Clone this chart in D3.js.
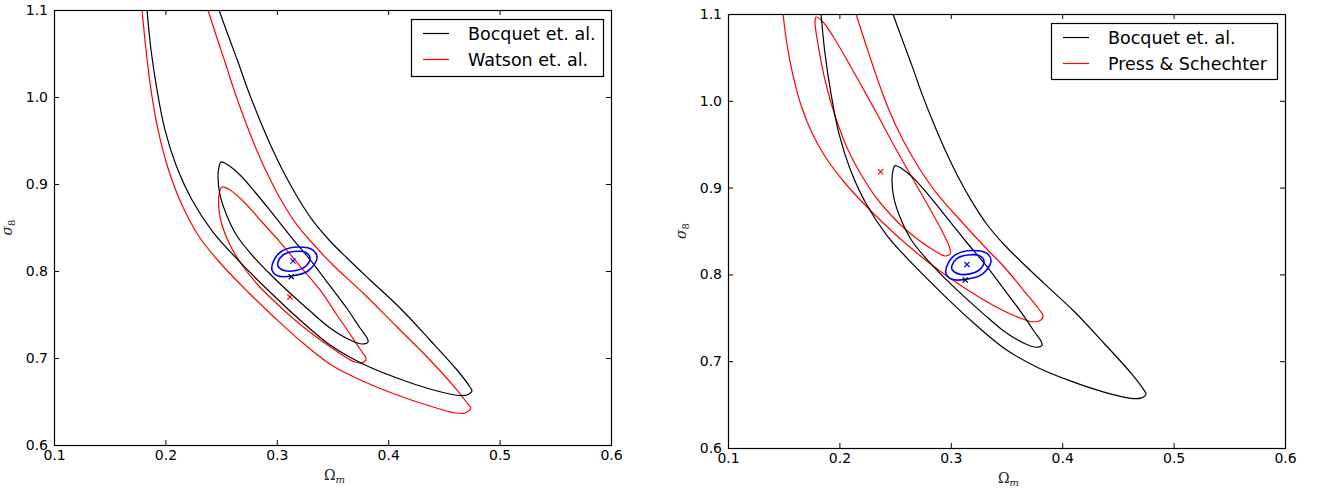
<!DOCTYPE html>
<html>
<head>
<meta charset="utf-8">
<script src="https://cdn.jsdelivr.net/npm/d3@7"></script>
<style>
  body { margin: 0; background: #fff; }
  text { font-family: "DejaVu Sans", sans-serif; }
</style>
</head>
<body>
<svg id="chart" width="1320" height="491"></svg>
<script>
// Axis ticks
const omegaTicks = [0.1, 0.2, 0.3, 0.4, 0.5, 0.6];
const sigmaTicks = [0.6, 0.7, 0.8, 0.9, 1.0, 1.1];

// Bocquet et. al. contours [Omega_m, sigma_8] (shared by both panels)
const bocquetInner = [
  [0.2499, 0.9253], [0.2562, 0.9218], [0.2670, 0.9103], [0.2804, 0.8908], [0.2957, 0.8667],
  [0.3136, 0.8379], [0.3316, 0.8103], [0.3478, 0.7828], [0.3639, 0.7552], [0.3747, 0.7345],
  [0.3810, 0.7230], [0.3819, 0.7184], [0.3765, 0.7161], [0.3657, 0.7207], [0.3478, 0.7345],
  [0.3298, 0.7540], [0.3118, 0.7747], [0.2939, 0.7966], [0.2777, 0.8184], [0.2643, 0.8402],
  [0.2553, 0.8632], [0.2490, 0.8874], [0.2472, 0.9080], [0.2481, 0.9195]
];
const bocquetOuter = [
  [0.1835, 1.100], [0.1871, 1.054], [0.1925, 1.008], [0.1996, 0.9621], [0.2095, 0.9218],
  [0.2239, 0.8816], [0.2427, 0.8448], [0.2670, 0.8103], [0.2939, 0.7759], [0.3208, 0.7437],
  [0.3478, 0.7149], [0.3774, 0.6931], [0.4079, 0.6770], [0.4375, 0.6644], [0.4600, 0.6575],
  [0.4707, 0.6575], [0.4752, 0.6621], [0.4734, 0.6667], [0.4618, 0.6862], [0.4375, 0.7207],
  [0.4106, 0.7575], [0.3837, 0.7897], [0.3630, 0.8149], [0.3469, 0.8356], [0.3325, 0.8575],
  [0.3190, 0.8839], [0.3065, 0.9126], [0.2948, 0.9437], [0.2840, 0.9759], [0.2741, 1.008],
  [0.2652, 1.0402], [0.2562, 1.0713], [0.2481, 1.100]
];

// Watson et. al. contours
const watsonInner = [
  [0.2508, 0.8966], [0.2580, 0.8931], [0.2715, 0.8782], [0.2867, 0.8563], [0.3029, 0.8333],
  [0.3208, 0.8057], [0.3388, 0.7782], [0.3540, 0.7494], [0.3675, 0.7241], [0.3765, 0.7069],
  [0.3801, 0.7000], [0.3783, 0.6954], [0.3702, 0.6954], [0.3522, 0.7092], [0.3343, 0.7253],
  [0.3163, 0.7437], [0.2984, 0.7644], [0.2831, 0.7839], [0.2688, 0.8069], [0.2580, 0.8299],
  [0.2508, 0.8529], [0.2481, 0.8701], [0.2481, 0.8874]
];
const watsonOuter = [
  [0.1790, 1.100], [0.1826, 1.054], [0.1871, 1.008], [0.1934, 0.9621], [0.2023, 0.9184],
  [0.2149, 0.8759], [0.2311, 0.8379], [0.2508, 0.8069], [0.2741, 0.7759], [0.2984, 0.7460],
  [0.3235, 0.7172], [0.3504, 0.6908], [0.3792, 0.6724], [0.4079, 0.6575], [0.4375, 0.6448],
  [0.4600, 0.6368], [0.4690, 0.6368], [0.4743, 0.6425], [0.4716, 0.6471], [0.4618, 0.6632],
  [0.4375, 0.6977], [0.4079, 0.7356], [0.3774, 0.7747], [0.3504, 0.8069], [0.3334, 0.8299],
  [0.3181, 0.8529], [0.3038, 0.8816], [0.2912, 0.9126], [0.2804, 0.9437], [0.2706, 0.9759],
  [0.2616, 1.008], [0.2535, 1.0402], [0.2454, 1.0713], [0.2382, 1.100]
];

// Press & Schechter contours
const pressInner = [
  [0.1790, 1.0965], [0.1853, 1.0908], [0.1952, 1.0724], [0.2068, 1.0470], [0.2194, 1.0182],
  [0.2329, 0.9871], [0.2463, 0.9548], [0.2598, 0.9237], [0.2732, 0.8938], [0.2858, 0.8650],
  [0.2948, 0.8431], [0.2993, 0.8293], [0.2993, 0.8235], [0.2948, 0.8212], [0.2858, 0.8270],
  [0.2724, 0.8385], [0.2589, 0.8523], [0.2454, 0.8696], [0.2320, 0.8903], [0.2203, 0.9134],
  [0.2095, 0.9387], [0.2005, 0.9664], [0.1925, 0.9975], [0.1862, 1.0286], [0.1817, 1.0585],
  [0.1790, 1.0793], [0.1781, 1.0908]
];
const pressOuter = [
  [0.1494, 1.100], [0.1530, 1.0643], [0.1583, 1.0297], [0.1655, 0.9952], [0.1754, 0.9629],
  [0.1880, 0.9341], [0.2050, 0.9053], [0.2257, 0.8765], [0.2499, 0.8465], [0.2795, 0.8143],
  [0.3110, 0.7855], [0.3442, 0.7601], [0.3621, 0.7498], [0.3738, 0.7452], [0.3810, 0.7475],
  [0.3828, 0.7521], [0.3783, 0.7613], [0.3666, 0.7797], [0.3487, 0.8074], [0.3289, 0.8339],
  [0.3083, 0.8627], [0.2885, 0.8915], [0.2715, 0.9226], [0.2571, 0.9548], [0.2445, 0.9894],
  [0.2338, 1.0263], [0.2239, 1.0643], [0.2149, 1.100]
];

// Reference (blue) contours
const refInner = [
  [0.3011, 0.8057], [0.3065, 0.8006], [0.3172, 0.8006], [0.3262, 0.8057], [0.3298, 0.8149],
  [0.3262, 0.8213], [0.3154, 0.8224], [0.3056, 0.8184], [0.3011, 0.8103]
];
const refOuter = [
  [0.2957, 0.8011], [0.3011, 0.7943], [0.3136, 0.7943], [0.3280, 0.8000], [0.3361, 0.8149],
  [0.3325, 0.8241], [0.3190, 0.8276], [0.3047, 0.8230], [0.2975, 0.8126]
];

// Best-fit points
const refBest = [0.3145, 0.8115];
const bocquetBest = [0.3130, 0.7935];
const watsonBest = [0.3118, 0.7700];
const pressBest = [0.2370, 0.9183];

const panels = [
  { left: 54, right: 611, top: 10, bottom: 445,
    red: [watsonInner, watsonOuter], redBest: watsonBest,
    labels: ["Bocquet et. al.", "Watson et. al."],
    legend: { x: 411, y: 19, w: 192, h: 57 } },
  { left: 728, right: 1285, top: 14, bottom: 448,
    red: [pressInner, pressOuter], redBest: pressBest,
    labels: ["Bocquet et. al.", "Press & Schechter"],
    legend: { x: 1051, y: 23, w: 226, h: 56 } }
];

const svg = d3.select("#chart");

function drawPanel(p, i) {
  const x = d3.scaleLinear().domain([0.1, 0.6]).range([p.left, p.right]);
  const y = d3.scaleLinear().domain([0.6, 1.1]).range([p.bottom, p.top]);

  const clipId = "clip" + i;
  svg.append("clipPath").attr("id", clipId)
    .append("rect")
    .attr("x", p.left).attr("y", p.top)
    .attr("width", p.right - p.left).attr("height", p.bottom - p.top);

  const g = svg.append("g").attr("clip-path", `url(#${clipId})`);

  const openLine = d3.line().x(d => x(d[0])).y(d => y(d[1])).curve(d3.curveCatmullRom.alpha(0.5));
  const closedLine = d3.line().x(d => x(d[0])).y(d => y(d[1])).curve(d3.curveCatmullRomClosed.alpha(0.5));

  // red contours first, black on top
  g.append("path").attr("d", closedLine(p.red[0])).attr("fill", "none").attr("stroke", "#ff0000").attr("stroke-width", 1.2);
  g.append("path").attr("d", openLine(p.red[1])).attr("fill", "none").attr("stroke", "#ff0000").attr("stroke-width", 1.2);
  g.append("path").attr("d", closedLine(bocquetInner)).attr("fill", "none").attr("stroke", "#000").attr("stroke-width", 1.2);
  g.append("path").attr("d", openLine(bocquetOuter)).attr("fill", "none").attr("stroke", "#000").attr("stroke-width", 1.2);

  g.append("path").attr("d", closedLine(refInner)).attr("fill", "none").attr("stroke", "#0000ff").attr("stroke-width", 1.6);
  g.append("path").attr("d", closedLine(refOuter)).attr("fill", "none").attr("stroke", "#0000ff").attr("stroke-width", 1.6);

  // best-fit crosses
  const marks = [[refBest, "#0000ff"], [bocquetBest, "#000"], [p.redBest, "#ff0000"]];
  marks.forEach(([pt, c]) => {
    const cx = x(pt[0]), cy = y(pt[1]), s = 2.6;
    g.append("path")
      .attr("d", `M${cx - s},${cy - s}L${cx + s},${cy + s}M${cx - s},${cy + s}L${cx + s},${cy - s}`)
      .attr("stroke", c).attr("stroke-width", 1.2);
  });

  // axes with inward ticks
  const fmt = d3.format(".1f");
  const bottomAxis = svg.append("g").attr("transform", `translate(0,${p.bottom})`)
    .call(d3.axisBottom(x).tickValues(omegaTicks).tickFormat(fmt).tickSizeInner(-5).tickSizeOuter(0).tickPadding(5));
  const leftAxis = svg.append("g").attr("transform", `translate(${p.left},0)`)
    .call(d3.axisLeft(y).tickValues(sigmaTicks).tickFormat(fmt).tickSizeInner(-5).tickSizeOuter(0).tickPadding(6));
  const topAxis = svg.append("g").attr("transform", `translate(0,${p.top})`)
    .call(d3.axisTop(x).tickValues(omegaTicks).tickFormat("").tickSizeInner(-5).tickSizeOuter(0));
  const rightAxis = svg.append("g").attr("transform", `translate(${p.right},0)`)
    .call(d3.axisRight(y).tickValues(sigmaTicks).tickFormat("").tickSizeInner(-5).tickSizeOuter(0));

  [bottomAxis, leftAxis, topAxis, rightAxis].forEach(a => {
    a.select(".domain").remove();
    a.selectAll("line").attr("stroke", "#000");
    a.selectAll("text").attr("font-size", "14px").attr("fill", "#000")
      .attr("font-family", "DejaVu Sans, sans-serif");
  });

  svg.append("rect")
    .attr("x", p.left + 0.5).attr("y", p.top + 0.5)
    .attr("width", p.right - p.left).attr("height", p.bottom - p.top)
    .attr("fill", "none").attr("stroke", "#000").attr("stroke-width", 1.2);

  // axis labels
  const cxLabel = (p.left + p.right) / 2 + 2;
  const xl = svg.append("text").attr("x", cxLabel).attr("y", p.bottom + 35)
    .attr("text-anchor", "middle").attr("fill", "#222");
  xl.append("tspan").attr("font-family", "DejaVu Serif, serif").attr("font-size", "14px").text("Ω");
  xl.append("tspan").attr("font-family", "DejaVu Serif, serif").attr("font-style", "italic")
    .attr("font-size", "10px").attr("dy", 3).text("m");

  const yl = svg.append("text")
    .attr("transform", `translate(${p.left - 42},${(p.top + p.bottom) / 2}) rotate(-90)`)
    .attr("text-anchor", "middle").attr("fill", "#222");
  yl.append("tspan").attr("font-family", "DejaVu Serif, serif").attr("font-style", "italic")
    .attr("font-size", "14px").text("σ");
  yl.append("tspan").attr("font-family", "DejaVu Serif, serif")
    .attr("font-size", "10px").attr("dy", 3).text("8");

  // legend
  const lg = svg.append("g");
  lg.append("rect")
    .attr("x", p.legend.x + 0.5).attr("y", p.legend.y + 0.5)
    .attr("width", p.legend.w).attr("height", p.legend.h)
    .attr("fill", "#fff").attr("stroke", "#000").attr("stroke-width", 1.2);
  const colors = ["#000", "#ff0000"];
  p.labels.forEach((lab, k) => {
    const ly = p.legend.y + 14.5 + k * 26;
    lg.append("line")
      .attr("x1", p.legend.x + 12).attr("x2", p.legend.x + 38)
      .attr("y1", ly).attr("y2", ly)
      .attr("stroke", colors[k]).attr("stroke-width", 1.2);
    lg.append("text")
      .attr("x", p.legend.x + 57).attr("y", ly + 6)
      .attr("font-size", "17.5px").attr("fill", "#000")
      .text(lab);
  });
}

panels.forEach(drawPanel);
</script>
</body>
</html>
